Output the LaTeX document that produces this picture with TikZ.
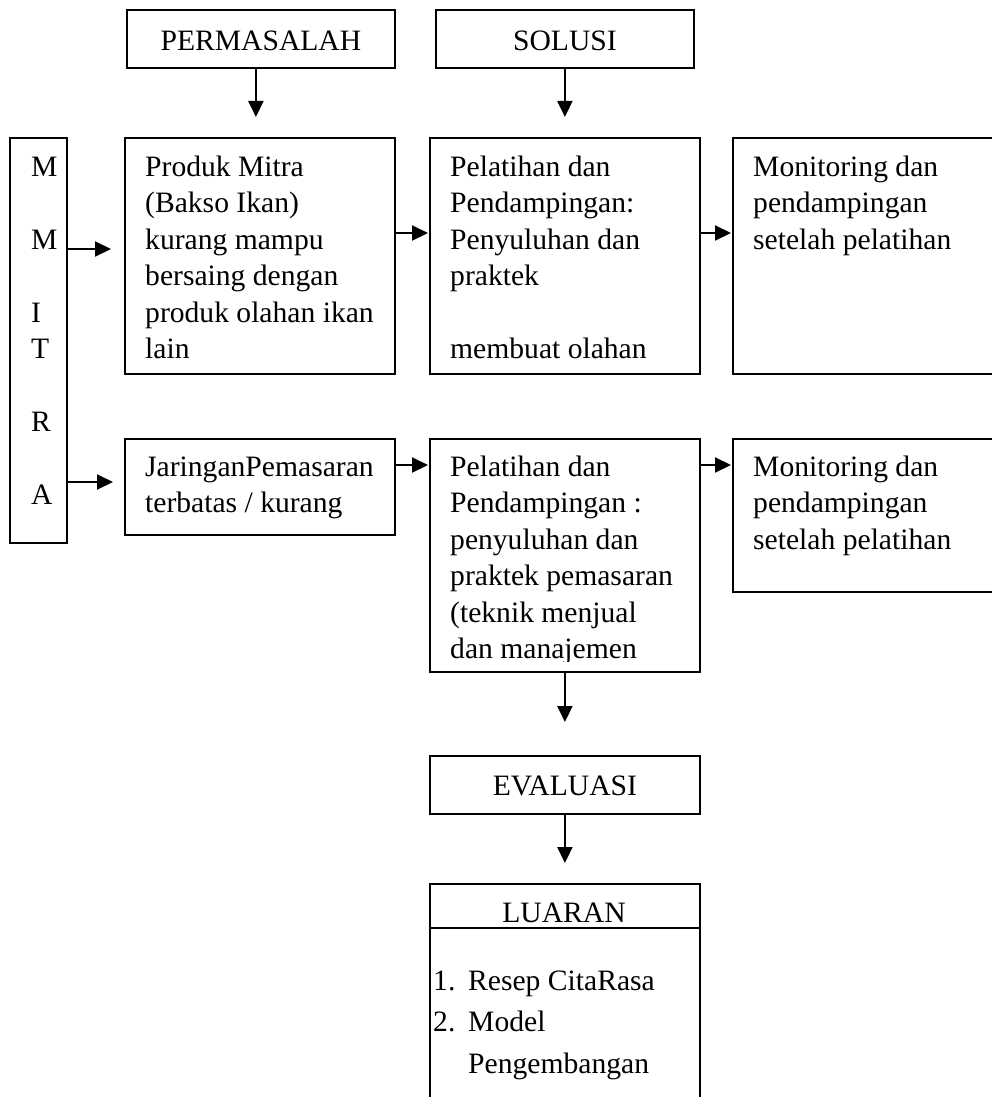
\documentclass[tikz,border=0pt]{standalone}
\usepackage{fontspec}
\setmainfont{Liberation Serif}
\usetikzlibrary{arrows.meta}
\begin{document}
\begin{tikzpicture}[x=1pt,y=-1pt,
  box/.style={draw, line width=1.8pt, inner sep=0pt, anchor=north west},
  txt/.style={anchor=north west, inner sep=0pt, align=left, font=\fontsize{29.6}{36.5}\selectfont},
  lst/.style={anchor=north west, inner sep=0pt, align=left, font=\fontsize{29.6}{41.5}\selectfont},
  hdr/.style={font=\fontsize{29.6}{36.5}\selectfont, text depth=0pt},
  arr/.style={line width=2pt, -{Triangle[length=16pt,width=15pt]}}]
\clip (0,0) rectangle (992,1097);
\fill[white] (0,0) rectangle (992,1097);
% boxes
\node[box, hdr, text height=24pt, minimum width=268pt, minimum height=58pt] (perm) at (126,9) {PERMASALAH};
\node[box, hdr, text height=24pt, minimum width=258pt, minimum height=58pt] (sol) at (435,9) {SOLUSI};
\node[box, minimum width=57pt, minimum height=405pt] (mitra) at (9,137) {};
\node[box, minimum width=270pt, minimum height=236pt] (prod) at (124,137) {};
\node[box, minimum width=270pt, minimum height=236pt] (pel1) at (429,137) {};
\node[box, minimum width=300pt, minimum height=236pt] (mon1) at (732,137) {};
\node[box, minimum width=270pt, minimum height=96pt] (jar) at (124,438) {};
\node[box, minimum width=270pt, minimum height=233pt] (pel2) at (429,438) {};
\node[box, minimum width=300pt, minimum height=153pt] (mon2) at (732,438) {};
\node[box, hdr, text height=22pt, minimum width=270pt, minimum height=58pt] (eval) at (429,755) {EVALUASI};
\node[box, minimum width=270pt, minimum height=260pt] (luar) at (429,883) {};
\draw[line width=1.8pt] (luar.west |- 0,928) -- (luar.east |- 0,928);
\node[hdr, text height=33pt, inner sep=0pt] (luarT) at (564,905.5) {LUARAN};
% texts
\node[txt] (mitraT) at (31,150.45) {\strut M\\\strut\\M\\\strut\\I\\T\\\strut\\R\\\strut\\A};
\node[txt] (prodT) at (145,150.45) {\strut Produk Mitra\\(Bakso Ikan)\\kurang mampu\\bersaing dengan\\produk olahan ikan\\lain};
\node[txt] (pel1T) at (450,150.45) {\strut Pelatihan dan\\Pendampingan:\\Penyuluhan dan\\praktek\\\strut\\membuat olahan};
\node[txt] (mon1T) at (753,150.45) {\strut Monitoring dan\\pendampingan\\setelah pelatihan};
\node[txt] (jarT) at (145,450.45) {\strut JaringanPemasaran\\terbatas / kurang};
\begin{scope}
\clip (429,438) rectangle (699,661);
\node[txt] (pel2T) at (450,450.45) {\strut Pelatihan dan\\Pendampingan :\\penyuluhan dan\\praktek pemasaran\\(teknik menjual\\dan manajemen};
\end{scope}
\node[txt] (mon2T) at (753,450.45) {\strut Monitoring dan\\pendampingan\\setelah pelatihan};
\node[lst] (num) at (433,960.95) {\strut 1.\\2.};
\node[lst] (items) at (468,960.95) {\strut Resep CitaRasa\\Model\\Pengembangan};
% connectors
\coordinate (pa) at ([xshift=-5pt]perm.south);
\draw[arr, shorten >=20pt] (pa) -- (pa |- prod.north);
\draw[arr, shorten >=20pt] (sol.south) -- (sol.south |- pel1.north);
\draw[arr, shorten >=13pt] (mitra.east |- 0,249) -- (prod.west |- 0,249);
\draw[arr, shorten >=1pt] (prod.east |- 0,233) -- (pel1.west |- 0,233);
\draw[arr, shorten >=1pt] (pel1.east |- 0,233) -- (mon1.west |- 0,233);
\draw[arr, shorten >=11pt] (mitra.east |- 0,482) -- (jar.west |- 0,482);
\draw[arr, shorten >=1pt] (jar.east |- 0,465) -- (pel2.west |- 0,465);
\draw[arr, shorten >=1pt] (pel2.east |- 0,465) -- (mon2.west |- 0,465);
\draw[arr, shorten >=33pt] (pel2.south) -- (eval.north);
\draw[arr, shorten >=20pt] (eval.south) -- (luar.north);
\end{tikzpicture}
\end{document}
